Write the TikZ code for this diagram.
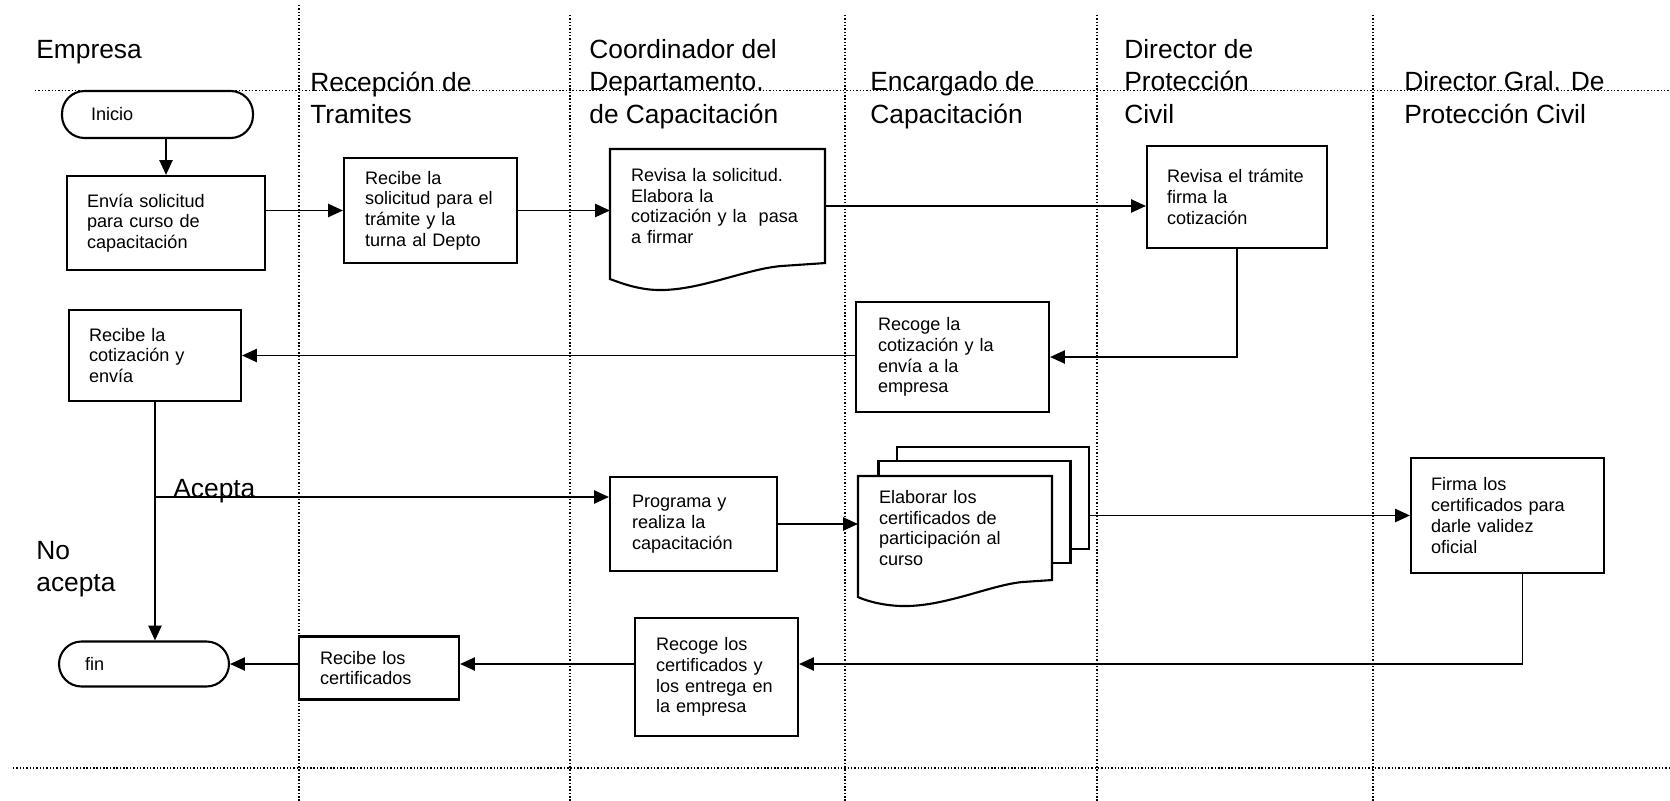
\documentclass[tikz,border=0pt]{standalone}
\usepackage{fontspec}
\setmainfont{Liberation Sans}
\usetikzlibrary{arrows.meta,calc}
\newcommand{\boxfont}{\fontsize{10.3}{11.8}\selectfont}
\newcommand{\lanefont}{\fontsize{15}{18.4}\selectfont}

\begin{document}
\begin{tikzpicture}[x=0.02cm, y=-0.02cm,
  >={Triangle[length=8.5pt,width=7.5pt]},
  proc/.style={draw, line width=1.2pt, align=left, inner xsep=0.4cm, inner ysep=0pt, font=\boxfont},
  doc/.style={proc, draw=none},
  term/.style={proc, rounded corners=0.45cm},
  lane/.style={anchor=north west, align=left, inner sep=0pt, font=\lanefont},
  flow/.style={line width=1.1pt},
  sep/.style={line width=0.8pt, dash pattern=on 0.8pt off 1.1pt}]
\useasboundingbox (0,0) rectangle (1670,801);

% lanes
\draw[sep] (35,90.5) -- (1670,90.5);
\draw[sep] (13,768) -- (1670,768);
\draw[sep] (299,5) -- (299,801);
\foreach \x in {570,845,1097,1373} {\draw[sep] (\x,15) -- (\x,801);}

\node[lane, anchor=base west] (empresa) at (36,58) {Empresa};
\node[lane] (recep) at (310,71.5) {Recepción de\\Tramites};
\node[lane] (coord) at (589,39) {Coordinador del\\Departamento.\\de Capacitación};
\node[lane] (encarg) at (870,71.5) {Encargado de\\Capacitación};
\node[lane] (dirpc) at (1124,39) {Director de\\Protección\\Civil};
\node[lane] (dirgral) at (1404,71.5) {Director Gral. De\\Protección Civil};

% steps
\node[term, text width=2.66cm, inner xsep=0.58cm, minimum height=0.94cm] (inicio) at (157.5,114.5) {Inicio};
\node[proc, text width=3.16cm, minimum height=1.88cm] (envia) at (166,223) {Envía solicitud\\para curso de\\capacitación};
\node[proc, text width=2.62cm, inner xsep=0.42cm, minimum height=2.10cm] (recsol) at (430.5,210.5) {Recibe la\\solicitud para el\\trámite y la\\turna al Depto};
\node[doc, text width=3.46cm, minimum height=2.24cm] (revsol) at (717.5,206) {Revisa la solicitud.\\Elabora la\\cotización y la\ \ pasa\\a firmar};
\node[proc, text width=2.80cm, minimum height=2.04cm] (revtram) at (1237,197) {Revisa el trámite\\firma la\\cotización};
\node[proc, text width=2.98cm, inner xsep=0.44cm, minimum height=2.20cm] (recot) at (952.5,357) {Recoge la\\cotización y la\\envía a la\\empresa};
\node[proc, text width=2.64cm, minimum height=1.82cm] (rcot) at (155,355.5) {Recibe la\\cotización y\\envía};
\node[proc, text width=2.46cm, inner xsep=0.44cm, minimum height=1.88cm] (prog) at (693.5,524) {Programa y\\realiza la\\capacitación};
\node[proc, fill=white, minimum width=3.84cm, minimum height=2.04cm] (elab3) at (993,498) {};
\node[proc, fill=white, minimum width=3.84cm, minimum height=2.04cm] (elab2) at (974.5,512) {};
\node[doc, fill=white, text width=3.04cm, minimum height=2.04cm] (elab) at (955,528) {Elaborar los\\certificados de\\participación al\\curso};
\node[proc, text width=3.06cm, minimum height=2.30cm] (firma) at (1507.5,515.5) {Firma los\\certificados para\\darle validez\\oficial};
\node[proc, text width=2.42cm, inner xsep=0.42cm, minimum height=2.36cm] (recert) at (716.5,677) {Recoge los\\certificados y\\los entrega en\\la empresa};
\node[proc, text width=2.36cm, inner xsep=0.42cm, minimum height=1.26cm] (rccert) at (379,668) {Recibe los\\certificados};
\node[term, text width=2.36cm, inner xsep=0.52cm, minimum height=0.90cm] (fin) at (144,664) {fin};

% document outlines
\draw[line width=1.2pt] (revsol.north west) -- (revsol.north east) -- (revsol.south east)
  -- ($(revsol.south east)+(-44,3)$)
  .. controls ($(revsol.south east)+(-79,6)$) and ($(revsol.south east)+(-124,27)$) .. ($(revsol.south west)+(50,27)$)
  .. controls ($(revsol.south west)+(29,27)$) and ($(revsol.south west)+(11,20)$) .. ($(revsol.south west)+(0,16)$) -- cycle;
\draw[line width=1.2pt] (elab.north west) -- (elab.north east) -- (elab.south east)
  -- ($(elab.south east)+(-30,2)$)
  .. controls ($(elab.south east)+(-61,5)$) and ($(elab.south east)+(-106,26)$) .. ($(elab.south west)+(47,26)$)
  .. controls ($(elab.south west)+(26,26)$) and ($(elab.south west)+(9,21)$) .. ($(elab.south west)+(0,17)$) -- cycle;

% flow
\draw[flow, ->] (envia.north |- inicio.south) -- (envia.north);
\draw[flow, ->] (envia.east |- recsol.west) -- (recsol.west);
\draw[flow, ->] (recsol.east) -- (recsol.east -| revsol.west);
\draw[flow, ->] (revsol.east) -- (revsol.east -| revtram.west);
\draw[flow, ->] (revtram.south) |- (recot.east);
\draw[flow, ->] (recot.west |- rcot.east) -- (rcot.east);
\draw[flow, ->] (rcot.south) -- (rcot.south |- fin.north);
\coordinate (acep) at (155,497);
\draw[flow, ->] (acep) -- (acep -| prog.west);
\draw[flow, ->] (prog.east) -- (prog.east -| elab.west);
\draw[flow, ->] (elab3.east |- firma.west) -- (firma.west);
\draw[flow, ->] ($(firma.south)+(15,0)$) |- (recert.east |- fin.east);
\draw[flow, ->] (recert.west |- fin.east) -- (rccert.east |- fin.east);
\draw[flow, ->] (rccert.west |- fin.east) -- (fin.east);

\node[anchor=base west, inner sep=0pt, font=\lanefont] (acepta) at (173,497) {Acepta};
\node[lane] (noacepta) at (36,541) {No\\acepta};
\end{tikzpicture}
\end{document}
